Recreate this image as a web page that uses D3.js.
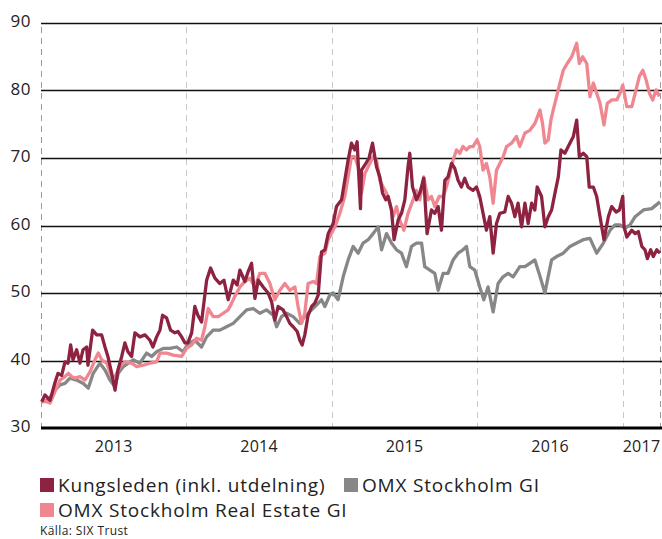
<!DOCTYPE html>
<html>
<head>
<meta charset="utf-8">
<title>Kungsleden vs OMX</title>
<script src="https://cdn.jsdelivr.net/npm/d3@7"></script>
<style>
  body { margin: 0; background: #fff; }
  svg text { font-family: "Open Sans", "Noto Sans", sans-serif; fill: #222; }
</style>
</head>
<body>
<svg id="chart" width="662" height="539"></svg>
<script>
// dates as decimal years, values as index level
var kungsleden = [
  [2013.005,33.9],[2013.027,34.9],[2013.062,34.1],[2013.096,36.7],[2013.117,38.1],[2013.142,37.8],
  [2013.165,39.8],[2013.186,39.6],[2013.204,42.3],[2013.220,40.1],[2013.245,41.6],[2013.268,39.6],
  [2013.289,41.6],[2013.314,42.0],[2013.323,39.3],[2013.355,44.5],[2013.383,43.8],[2013.417,43.8],
  [2013.440,42.0],[2013.460,40.6],[2013.486,38.1],[2013.509,35.6],[2013.529,38.6],[2013.555,40.6],
  [2013.577,42.6],[2013.598,41.3],[2013.623,40.6],[2013.646,44.1],[2013.680,43.5],[2013.715,43.8],
  [2013.749,43.0],[2013.770,42.0],[2013.795,43.5],[2013.818,44.5],[2013.836,46.7],[2013.864,46.3],
  [2013.891,44.5],[2013.921,44.1],[2013.942,44.3],[2013.967,43.5],[2013.990,42.6],[2014.010,42.6],
  [2014.036,44.1],[2014.058,48.0],[2014.079,46.7],[2014.104,45.7],[2014.120,48.5],[2014.139,51.9],
  [2014.166,53.7],[2014.196,52.2],[2014.230,51.4],[2014.258,51.9],[2014.287,49.0],[2014.322,51.9],
  [2014.349,51.2],[2014.368,53.4],[2014.402,51.7],[2014.425,53.2],[2014.448,54.4],[2014.471,49.2],
  [2014.494,51.9],[2014.528,50.9],[2014.562,50.0],[2014.586,48.7],[2014.608,46.0],[2014.631,48.0],
  [2014.665,47.5],[2014.689,46.5],[2014.711,45.5],[2014.734,45.0],[2014.762,44.3],[2014.780,43.0],
  [2014.796,42.3],[2014.814,43.8],[2014.837,46.7],[2014.861,48.0],[2014.883,48.5],[2014.906,49.7],
  [2014.929,56.1],[2014.952,56.4],[2014.975,58.8],[2015.009,60.3],[2015.032,62.8],[2015.067,63.8],
  [2015.089,66.7],[2015.112,69.7],[2015.135,72.2],[2015.158,71.2],[2015.174,72.4],[2015.197,62.5],
  [2015.204,68.2],[2015.234,69.2],[2015.256,70.0],[2015.280,72.2],[2015.307,68.7],[2015.330,67.2],
  [2015.349,64.8],[2015.371,63.8],[2015.387,64.3],[2015.410,62.3],[2015.428,57.9],[2015.456,60.8],
  [2015.479,61.8],[2015.502,63.8],[2015.524,68.7],[2015.536,70.7],[2015.555,65.7],[2015.582,63.8],
  [2015.605,64.8],[2015.632,67.0],[2015.655,58.8],[2015.685,62.3],[2015.708,61.8],[2015.731,62.8],
  [2015.754,59.3],[2015.777,66.7],[2015.799,67.2],[2015.823,69.2],[2015.845,68.5],[2015.868,66.7],
  [2015.891,65.7],[2015.914,67.0],[2015.937,65.7],[2015.971,65.2],[2015.995,65.7],[2016.017,64.3],
  [2016.040,61.8],[2016.063,59.3],[2016.086,61.3],[2016.109,55.9],[2016.132,60.3],[2016.155,61.8],
  [2016.189,62.0],[2016.212,64.3],[2016.235,63.3],[2016.258,61.3],[2016.280,63.3],[2016.304,59.8],
  [2016.327,63.3],[2016.349,60.3],[2016.373,63.3],[2016.395,62.3],[2016.411,65.7],[2016.441,64.3],
  [2016.464,59.8],[2016.487,61.3],[2016.510,62.3],[2016.533,64.8],[2016.556,67.2],[2016.574,71.2],
  [2016.601,70.7],[2016.624,71.7],[2016.659,73.2],[2016.682,75.6],[2016.700,70.2],[2016.727,70.7],
  [2016.751,70.2],[2016.768,65.7],[2016.796,65.7],[2016.819,64.3],[2016.842,61.3],[2016.869,57.9],
  [2016.899,61.3],[2016.922,62.8],[2016.952,62.0],[2016.975,62.3],[2016.998,64.3],[2017.007,59.8],
  [2017.026,58.3],[2017.060,59.3],[2017.083,58.8],[2017.105,59.1],[2017.129,56.9],[2017.151,56.4],
  [2017.167,55.1],[2017.190,56.4],[2017.208,55.4],[2017.232,56.4],[2017.254,55.9]
];

var omxGI = [
  [2013.005,33.9],[2013.050,34.1],[2013.096,35.6],[2013.131,36.4],[2013.165,36.6],[2013.199,37.4],
  [2013.245,37.1],[2013.291,36.6],[2013.325,35.9],[2013.359,38.1],[2013.405,39.6],[2013.440,38.6],
  [2013.474,37.1],[2013.509,36.1],[2013.531,38.1],[2013.566,39.1],[2013.600,39.6],[2013.634,40.1],
  [2013.680,39.6],[2013.726,41.1],[2013.761,40.6],[2013.795,41.3],[2013.841,41.8],[2013.887,41.8],
  [2013.933,42.0],[2013.978,41.3],[2014.012,42.5],[2014.058,43.0],[2014.104,42.0],[2014.139,43.5],
  [2014.184,44.5],[2014.230,44.5],[2014.276,45.0],[2014.322,45.5],[2014.368,46.5],[2014.414,47.5],
  [2014.459,47.7],[2014.505,47.0],[2014.551,47.5],[2014.597,46.7],[2014.620,45.0],[2014.654,46.5],
  [2014.689,47.0],[2014.734,46.5],[2014.780,45.5],[2014.814,46.5],[2014.861,47.5],[2014.895,48.2],
  [2014.929,49.0],[2014.952,48.0],[2014.986,49.7],[2015.009,50.0],[2015.043,49.0],[2015.078,52.4],
  [2015.112,54.9],[2015.147,56.9],[2015.181,55.9],[2015.215,57.4],[2015.250,57.9],[2015.284,58.8],
  [2015.318,59.8],[2015.342,56.4],[2015.376,58.8],[2015.410,57.4],[2015.445,56.4],[2015.479,55.9],
  [2015.513,53.9],[2015.548,56.9],[2015.582,57.4],[2015.617,57.4],[2015.639,53.9],[2015.674,53.4],
  [2015.708,52.9],[2015.731,50.4],[2015.765,52.9],[2015.799,52.9],[2015.834,54.9],[2015.868,55.9],
  [2015.902,56.4],[2015.926,56.9],[2015.949,53.9],[2015.983,53.4],[2016.017,50.9],[2016.045,49.0],
  [2016.074,50.9],[2016.109,47.2],[2016.143,51.4],[2016.177,52.4],[2016.212,52.9],[2016.246,52.4],
  [2016.292,53.9],[2016.327,53.9],[2016.361,54.4],[2016.395,54.9],[2016.430,52.5],[2016.464,50.0],
  [2016.487,52.5],[2016.510,54.9],[2016.544,55.4],[2016.590,55.9],[2016.636,56.9],[2016.682,57.4],
  [2016.727,57.9],[2016.773,58.1],[2016.819,55.9],[2016.865,57.4],[2016.911,59.3],[2016.945,60.1],
  [2016.979,60.1],[2017.014,59.6],[2017.048,60.1],[2017.083,61.3],[2017.140,62.3],[2017.197,62.5],
  [2017.254,63.5]
];

var omxRealEstate = [
  [2013.005,33.9],[2013.039,33.9],[2013.062,33.7],[2013.096,35.4],[2013.131,37.1],[2013.165,37.6],
  [2013.188,38.1],[2013.211,37.6],[2013.234,37.4],[2013.268,37.6],[2013.302,37.1],[2013.337,38.3],
  [2013.371,40.1],[2013.394,41.1],[2013.417,40.1],[2013.452,39.6],[2013.486,37.6],[2013.509,37.6],
  [2013.543,39.1],[2013.577,39.8],[2013.623,39.6],[2013.658,39.1],[2013.703,39.3],[2013.749,39.6],
  [2013.795,39.8],[2013.818,41.1],[2013.864,41.1],[2013.909,40.8],[2013.967,40.6],[2014.001,41.8],
  [2014.036,42.3],[2014.070,43.3],[2014.104,43.0],[2014.127,45.0],[2014.150,47.7],[2014.184,46.5],
  [2014.219,46.5],[2014.253,47.0],[2014.287,47.5],[2014.311,48.5],[2014.333,49.5],[2014.368,50.9],
  [2014.402,51.7],[2014.436,52.2],[2014.471,50.9],[2014.505,52.9],[2014.540,52.9],[2014.574,51.4],
  [2014.608,49.0],[2014.643,50.4],[2014.677,51.4],[2014.711,50.4],[2014.746,50.9],[2014.768,48.0],
  [2014.792,45.5],[2014.814,47.0],[2014.837,51.4],[2014.872,51.7],[2014.895,51.4],[2014.918,55.4],
  [2014.952,55.9],[2014.975,57.9],[2015.021,59.8],[2015.055,61.8],[2015.089,64.3],[2015.112,67.2],
  [2015.135,70.2],[2015.158,70.2],[2015.181,68.7],[2015.204,64.8],[2015.227,67.7],[2015.250,68.7],
  [2015.284,70.2],[2015.307,69.7],[2015.330,66.7],[2015.353,65.7],[2015.376,64.8],[2015.399,63.3],
  [2015.421,61.3],[2015.445,62.8],[2015.467,60.8],[2015.495,59.3],[2015.524,61.8],[2015.559,63.8],
  [2015.582,65.2],[2015.605,63.8],[2015.632,67.2],[2015.662,63.8],[2015.685,64.3],[2015.708,62.8],
  [2015.738,64.3],[2015.765,64.3],[2015.788,65.7],[2015.811,67.7],[2015.834,69.7],[2015.857,71.2],
  [2015.880,70.7],[2015.902,71.7],[2015.926,71.2],[2015.949,71.7],[2015.971,71.7],[2015.999,72.7],
  [2016.017,71.7],[2016.040,68.2],[2016.063,69.2],[2016.086,67.2],[2016.109,63.3],[2016.132,68.2],
  [2016.155,69.2],[2016.178,70.2],[2016.201,71.7],[2016.235,72.2],[2016.269,73.2],[2016.292,71.7],
  [2016.327,73.7],[2016.361,74.1],[2016.395,75.1],[2016.430,77.1],[2016.448,75.1],[2016.464,72.2],
  [2016.487,72.7],[2016.505,75.6],[2016.521,77.1],[2016.544,79.1],[2016.567,81.1],[2016.590,83.0],
  [2016.617,84.0],[2016.648,85.0],[2016.682,87.0],[2016.700,84.0],[2016.723,85.0],[2016.751,84.0],
  [2016.773,79.1],[2016.796,81.1],[2016.819,79.6],[2016.842,78.1],[2016.869,74.9],[2016.892,78.1],
  [2016.922,78.6],[2016.957,78.6],[2016.979,79.6],[2016.998,80.8],[2017.026,77.6],[2017.060,77.6],
  [2017.089,80.1],[2017.112,82.1],[2017.136,83.0],[2017.158,81.6],[2017.181,79.6],[2017.204,78.6],
  [2017.227,80.1],[2017.250,79.1]
];

var yTicks = [30, 40, 50, 60, 70, 80, 90];
var yearLabels = ["2013", "2014", "2015", "2016", "2017"];
var seriesNames = ["Kungsleden (inkl. utdelning)", "OMX Stockholm GI", "OMX Stockholm Real Estate GI"];
var seriesColors = ["#8e2341", "#878787", "#f0868f"];
var source = "Källa: SIX Trust";

/* decimal year -> Date */
function toDate(t) {
  var yr = Math.floor(t);
  var a = new Date(yr, 0, 1), b = new Date(yr + 1, 0, 1);
  return new Date(+a + (t - yr) * (b - a));
}

(function () {
  var svg = d3.select("#chart");
  var left = 41, right = 660, plotTop = 23, bottom = 428;
  var endDate = toDate(2017.254);

  var x = d3.scaleTime().domain([new Date(2013, 0, 1), endDate]).range([left, right]);
  var y = d3.scaleLinear().domain([30, 90]).range([bottom, plotTop]);

  /* dashed year separators */
  var seps = yearLabels.map(function (d) { return new Date(+d, 0, 1); }).concat([endDate]);
  svg.append("g").selectAll("line").data(seps).enter().append("line")
    .attr("x1", function (d) { return Math.round(x(d)) + 0.5; })
    .attr("x2", function (d) { return Math.round(x(d)) + 0.5; })
    .attr("y1", y(90) + 4).attr("y2", bottom)
    .attr("stroke", function (d, i) { return (i == 0 || i == seps.length - 1) ? "#9a9a9a" : "#c8c8c8"; })
    .attr("stroke-width", 1)
    .attr("stroke-dasharray", "6,5");

  /* horizontal grid */
  svg.append("g").selectAll("line").data(yTicks.slice(1)).enter().append("line")
    .attr("x1", left).attr("x2", 662)
    .attr("y1", function (d) { return Math.round(y(d)) + 0.5; })
    .attr("y2", function (d) { return Math.round(y(d)) + 0.5; })
    .attr("stroke", "#111").attr("stroke-width", 1.4);

  svg.append("g").selectAll("text").data(yTicks).enter().append("text")
    .attr("x", 31).attr("y", function (d) { return y(d) + 4; })
    .attr("text-anchor", "end").style("font-size", "17px").style("letter-spacing", "0.5px")
    .text(function (d) { return d; });

  /* year labels in middle of each span */
  svg.append("g").selectAll("text").data(yearLabels).enter().append("text")
    .attr("x", function (d, i) { return (x(seps[i]) + x(seps[i + 1])) / 2; })
    .attr("y", 452)
    .attr("text-anchor", "middle").style("font-size", "16px").style("letter-spacing", "0.3px")
    .text(function (d) { return d; });

  /* series lines */
  var line = d3.line()
    .x(function (d) { return x(toDate(d[0])); })
    .y(function (d) { return y(d[1]); });

  var order = [[omxGI, 1], [omxRealEstate, 2], [kungsleden, 0]];
  order.forEach(function (s) {
    svg.append("path").datum(s[0])
      .attr("d", line)
      .attr("fill", "none")
      .attr("stroke", seriesColors[s[1]])
      .attr("stroke-width", 3.3)
      .attr("stroke-linejoin", "round");
  });

  /* thick baseline */
  svg.append("line").attr("x1", left).attr("x2", 662)
    .attr("y1", bottom).attr("y2", bottom)
    .attr("stroke", "#000").attr("stroke-width", 3);

  /* legend */
  var legendPos = [[40, 478], [344, 478], [40, 503]];
  var leg = svg.append("g").selectAll("g").data(seriesNames).enter().append("g")
    .attr("transform", function (d, i) { return "translate(" + legendPos[i][0] + "," + legendPos[i][1] + ")"; });
  leg.append("rect").attr("width", 14).attr("height", 14)
    .attr("fill", function (d, i) { return seriesColors[i]; });
  leg.append("text").attr("x", 18).attr("y", 14)
    .style("font-size", "19px").style("letter-spacing", "0.8px")
    .text(function (d) { return d; });

  svg.append("text").attr("x", 40).attr("y", 535)
    .style("font-size", "12px").style("letter-spacing", "0.4px").text(source);
})();
</script>
</body>
</html>
